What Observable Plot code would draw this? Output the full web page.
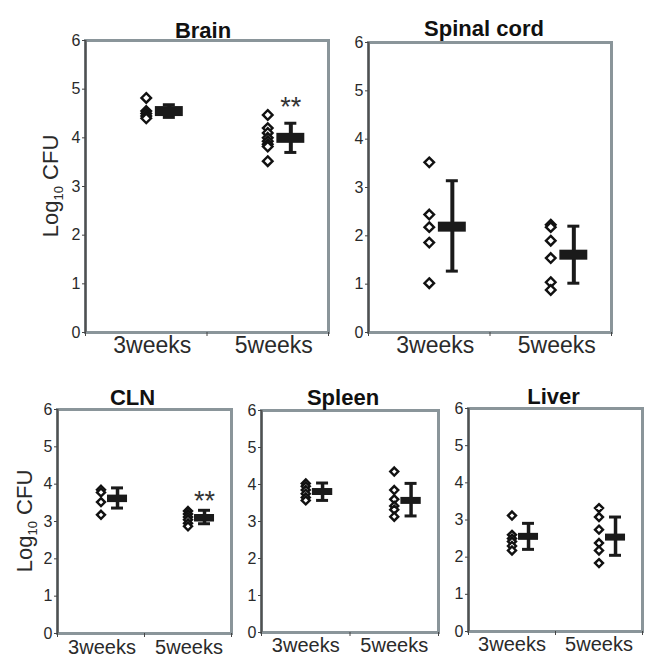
<!DOCTYPE html>
<html>
<head>
<meta charset="utf-8">
<script src="https://cdn.jsdelivr.net/npm/d3@7"></script>
<script src="https://cdn.jsdelivr.net/npm/@observablehq/plot@0.6"></script>
<style>
  html, body { margin: 0; padding: 0; background: #fff; }
  #wrap { position: relative; width: 650px; height: 660px; overflow: hidden; background: #fff; }
  #wrap svg { position: absolute; overflow: visible; }
</style>
</head>
<body>
<div id="wrap"></div>
<script>
// ---------- data ----------
const categories = ["3weeks", "5weeks"];
const yTicks = [0, 1, 2, 3, 4, 5, 6];
const yLabelMain = "Log";
const yLabelSub = "10";
const yLabelTail = " CFU";

const brain3 = [4.82, 4.55, 4.5, 4.45, 4.4];
const brain5 = [4.47, 4.2, 4.1, 4.0, 3.93, 3.87, 3.82, 3.52];
const brainMean = [4.55, 4.0];
const brainLow = [4.42, 3.7];
const brainHigh = [4.68, 4.3];
const brainSig = ["", "**"];

const spinal3 = [3.52, 2.44, 2.18, 1.86, 1.02];
const spinal5 = [2.23, 2.18, 1.9, 1.54, 1.04, 0.88];
const spinalMean = [2.19, 1.61];
const spinalLow = [1.27, 1.02];
const spinalHigh = [3.14, 2.2];
const spinalSig = ["", ""];

const cln3 = [3.85, 3.78, 3.52, 3.18];
const cln5 = [3.28, 3.2, 3.12, 3.05, 2.95, 2.87];
const clnMean = [3.62, 3.1];
const clnLow = [3.36, 2.94];
const clnHigh = [3.9, 3.3];
const clnSig = ["", "**"];

const spleen3 = [4.03, 3.95, 3.85, 3.75, 3.65, 3.57];
const spleen5 = [4.35, 3.85, 3.6, 3.42, 3.32, 3.13];
const spleenMean = [3.81, 3.57];
const spleenLow = [3.57, 3.15];
const spleenHigh = [4.04, 4.03];
const spleenSig = ["", ""];

const liver3 = [3.12, 2.6, 2.5, 2.42, 2.3, 2.18];
const liver5 = [3.32, 3.08, 2.74, 2.38, 2.18, 1.84];
const liverMean = [2.56, 2.54];
const liverLow = [2.21, 2.05];
const liverHigh = [2.91, 3.08];
const liverSig = ["", ""];

// ---------- layout / style ----------
const FONT = "'Liberation Sans', Arial, Helvetica, sans-serif";
const panels = [
  {title: "Brain", pts: [brain3, brain5], mean: brainMean, lo: brainLow, hi: brainHigh, sig: brainSig,
   left: 0, top: 0, width: 340, height: 365, ml: 85, mr: 12, mt: 40, mb: 33,
   titleDx: -4, titleDy: -18, xFont: 23, xPad: 4, xDx: 6, r: 4.3, bar: 10, stem: 4, sigDy: 16, ylab: {x: 58}},
  {title: "Spinal cord", pts: [spinal3, spinal5], mean: spinalMean, lo: spinalLow, hi: spinalHigh, sig: spinalSig,
   left: 300, top: 0, width: 340, height: 365, ml: 68, mr: 29, mt: 42, mb: 33,
   titleDx: -6, titleDy: -22, xFont: 23, xPad: 4, xDx: 6, r: 4.3, bar: 10, stem: 4, sigDy: 16, ylab: null},
  {title: "CLN", pts: [cln3, cln5], mean: clnMean, lo: clnLow, hi: clnHigh, sig: clnSig,
   left: 0, top: 365, width: 240, height: 295, ml: 57, mr: 9, mt: 44, mb: 27,
   titleDx: -12, titleDy: -20, xFont: 20, xPad: 6, xDx: 1, r: 3.6, bar: 7.5, stem: 3.5, sigDy: 9, ylab: {x: 32}},
  {title: "Spleen", pts: [spleen3, spleen5], mean: spleenMean, lo: spleenLow, hi: spleenHigh, sig: spleenSig,
   left: 220, top: 365, width: 225, height: 295, ml: 41, mr: 7, mt: 45, mb: 28,
   titleDx: -7, titleDy: -21, xFont: 20, xPad: 5, xDx: 0, r: 3.6, bar: 7, stem: 3.5, sigDy: 9, ylab: null},
  {title: "Liver", pts: [liver3, liver5], mean: liverMean, lo: liverLow, hi: liverHigh, sig: liverSig,
   left: 430, top: 365, width: 220, height: 295, ml: 38, mr: 8, mt: 43, mb: 29,
   titleDx: -2, titleDy: -20, xFont: 20, xPad: 5, xDx: 0, r: 3.6, bar: 7, stem: 3.5, sigDy: 9, ylab: null}
];

const wrap = document.getElementById("wrap");
const catPos = categories.map((c, i) => i + 0.5);
const MEAN_OFFSET = 0.19;

for (const p of panels) {
  const frameW = p.width - p.ml - p.mr;
  const pxPerUnit = frameW / categories.length;
  const capHalf = 6 / pxPerUnit;
  const barHalf = 0.115;

  const points = p.pts.flatMap((vals, i) => vals.map(v => ({x: catPos[i], y: v})));
  const stats = categories.map((c, i) => ({
    cat: c, x: catPos[i] + MEAN_OFFSET, mean: p.mean[i], lo: p.lo[i], hi: p.hi[i], sig: p.sig[i]
  }));

  const svg = Plot.plot({
    width: p.width, height: p.height,
    marginLeft: p.ml, marginRight: p.mr, marginTop: p.mt, marginBottom: p.mb,
    style: {fontFamily: FONT, fontSize: "16px", color: "#2a2a2a", background: "transparent", overflow: "visible"},
    x: {domain: [0, categories.length], axis: null},
    y: {domain: [0, 6], axis: null},
    marks: [
      Plot.frame({stroke: "#8a959a", strokeWidth: 3}),
      Plot.ruleX([0], {stroke: "#505050", strokeWidth: 2}),
      Plot.axisY({ticks: yTicks, tickSize: 3, tickPadding: 2, fontSize: 16, label: null,
                  tickFormat: d3.format("d"), stroke: "#444", fill: "#2a2a2a"}),
      Plot.axisX({ticks: d3.range(categories.length + 1), tickSize: 4, tickFormat: () => "", label: null, stroke: "#444"}),
      Plot.axisX({ticks: catPos, tickSize: 0, tickPadding: p.xPad, fontSize: p.xFont, dx: p.xDx,
                  tickFormat: d => categories[Math.floor(d)], label: null, fill: "#2a2a2a"}),
      // error bars
      Plot.ruleX(stats, {x: "x", y1: "lo", y2: "hi", stroke: "#1a1a1a", strokeWidth: p.stem}),
      Plot.ruleY(stats, {y: "hi", x1: d => d.x - capHalf, x2: d => d.x + capHalf, stroke: "#1a1a1a", strokeWidth: 3}),
      Plot.ruleY(stats, {y: "lo", x1: d => d.x - capHalf, x2: d => d.x + capHalf, stroke: "#1a1a1a", strokeWidth: 3}),
      // mean bar
      Plot.ruleY(stats, {y: "mean", x1: d => d.x - barHalf, x2: d => d.x + barHalf, stroke: "#1a1a1a", strokeWidth: p.bar}),
      // individual points
      Plot.dot(points, {x: "x", y: "y", symbol: "diamond2", r: p.r, stroke: "#111", strokeWidth: 2.4, fill: "white"}),
      // significance
      Plot.text(stats.filter(d => d.sig), {x: "x", y: "hi", text: "sig", dy: -p.sigDy, fontSize: 27, fill: "#333"}),
      // title
      Plot.text([p.title], {frameAnchor: "top", dx: p.titleDx, dy: p.titleDy, fontSize: 22, fontWeight: "bold", fill: "#111"})
    ]
  });
  svg.style.left = p.left + "px";
  svg.style.top = p.top + "px";

  if (p.ylab) {
    const cy = p.mt + (p.height - p.mt - p.mb) / 2;
    const t = d3.select(svg).append("text")
      .attr("transform", `translate(${p.ylab.x},${cy}) rotate(-90)`)
      .attr("text-anchor", "middle")
      .attr("font-family", FONT)
      .attr("font-size", 22)
      .attr("fill", "#2a2a2a");
    t.append("tspan").text(yLabelMain);
    t.append("tspan").attr("font-size", 13).attr("dy", 5).text(yLabelSub);
    t.append("tspan").attr("dy", -5).text(yLabelTail);
  }
  wrap.appendChild(svg);
}
</script>
</body>
</html>
